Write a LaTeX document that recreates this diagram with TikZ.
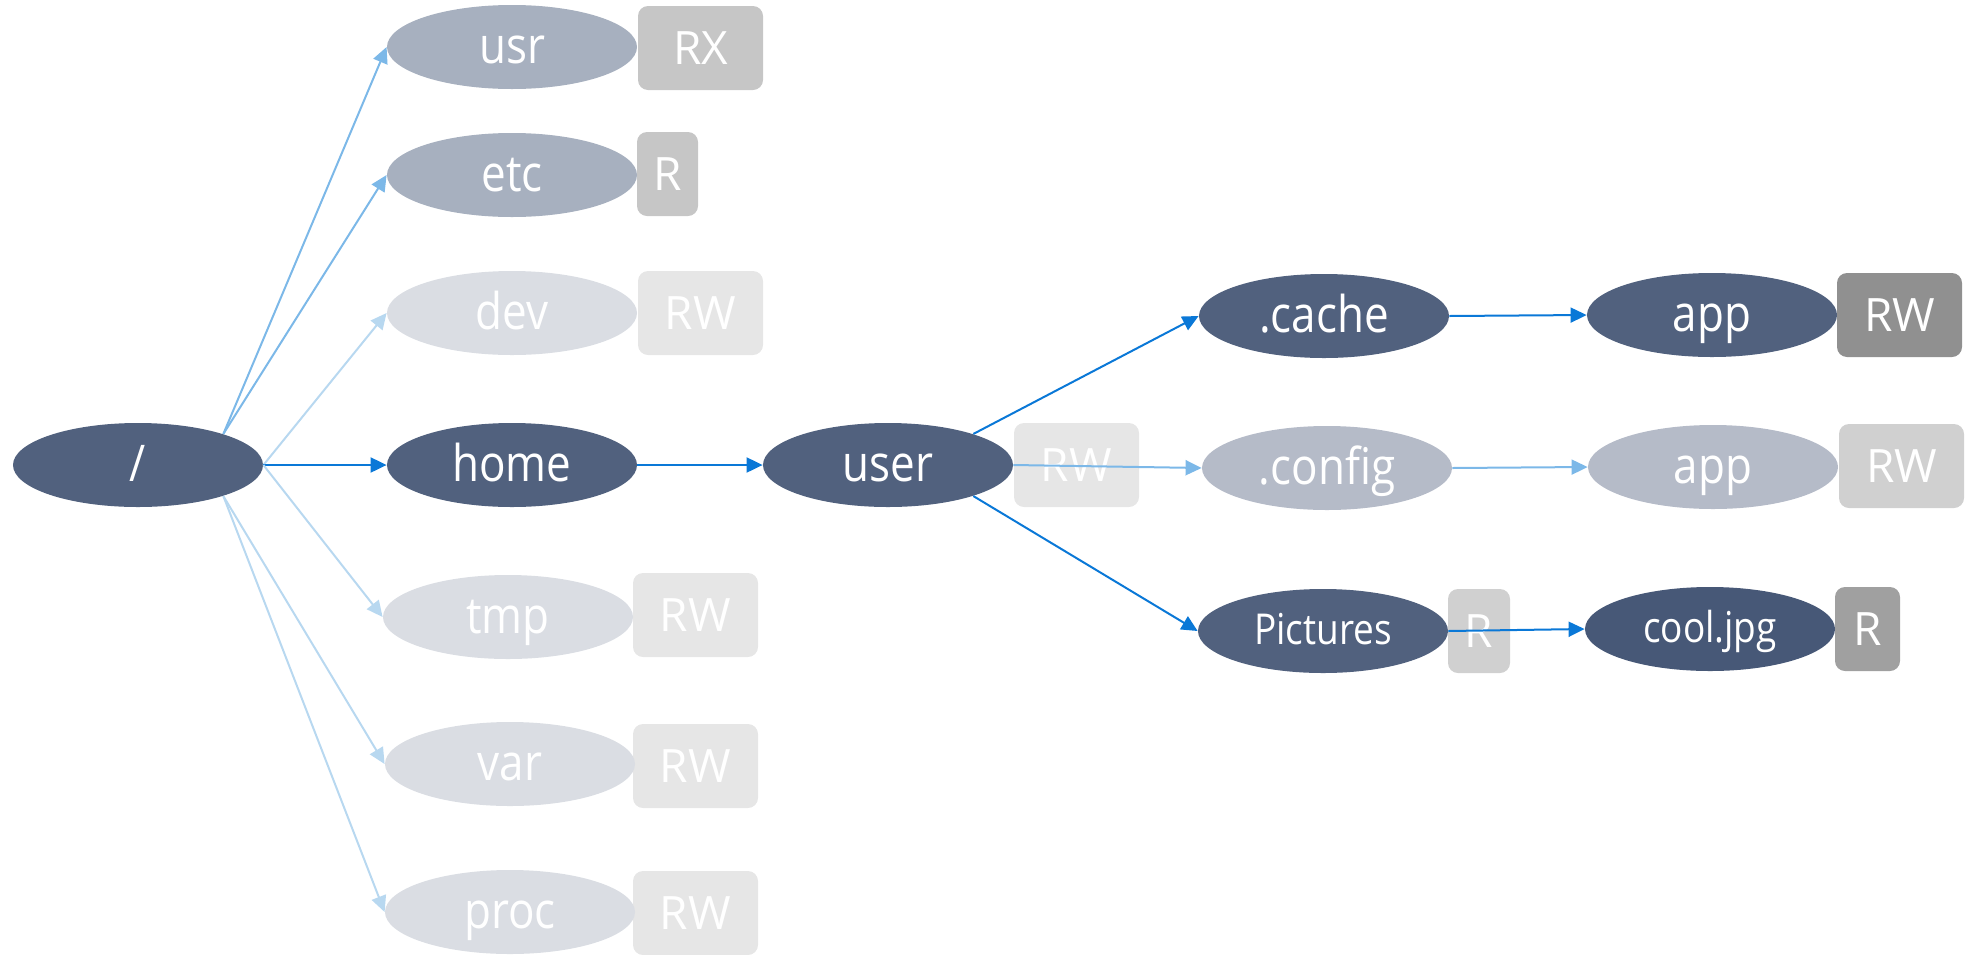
\documentclass[tikz,border=0pt]{standalone}
\usepackage{fontspec}
\setmainfont{Open Sans}
\usetikzlibrary{shapes.geometric,arrows.meta}
\definecolor{ndark}{HTML}{51617E}
\definecolor{ndarker}{HTML}{475877}
\definecolor{nmid}{HTML}{A7B0BF}
\definecolor{nsoft}{HTML}{B5BBC8}
\definecolor{nlight}{HTML}{DADDE3}
\definecolor{bmid}{HTML}{C6C6C6}
\definecolor{blight}{HTML}{E6E6E6}
\definecolor{bsoft}{HTML}{D0D0D0}
\definecolor{bdark}{HTML}{909090}
\definecolor{bdarkish}{HTML}{A0A0A0}
\definecolor{estrong}{HTML}{0A78D7}
\definecolor{emid}{HTML}{7CB8E8}
\definecolor{elight}{HTML}{B8D8F0}
\newcommand\tallbl[1]{\scalebox{1}[1.15]{#1}}
\tikzset{
  dirnode/.style={ellipse, inner sep=0pt, minimum width=125pt, minimum height=42pt,
    text=white, font=\fontsize{22pt}{26pt}\selectfont, text height=16.5pt, text depth=0pt},
  smalltext/.style={font=\fontsize{18.5pt}{22pt}\selectfont, text height=13pt, text depth=0pt},
  permbox/.style={rectangle, rounded corners=5pt, inner sep=0pt, minimum height=42pt,
    text=white, font=\fontsize{23pt}{27pt}\selectfont},
  edge/.style={line width=1pt, -{Triangle[length=8pt,width=7.5pt]}},
}
\begin{document}
\begin{tikzpicture}[x=0.5pt,y=-0.5pt]
\useasboundingbox (0,0) rectangle (1977,954);
% permission boxes
\node[permbox, fill=bmid, minimum width=62.5pt] (usrp) at (700.5,48) {RX};
\node[permbox, fill=bmid, minimum width=30.5pt] (etcp) at (667.5,174) {R};
\node[permbox, fill=blight, minimum width=62.5pt] (devp) at (700.5,313) {RW};
\node[permbox, fill=blight, minimum width=62.5pt] (tmpp) at (695.5,615) {RW};
\node[permbox, fill=blight, minimum width=62.5pt] (varp) at (695.5,766) {RW};
\node[permbox, fill=blight, minimum width=62.5pt] (procp) at (695.5,913) {RW};
\node[permbox, fill=blight, minimum width=62.5pt] (userp) at (1076.5,465) {RW};
\node[permbox, fill=bsoft, minimum width=31pt] (picp) at (1479,631) {R};
\node[permbox, fill=bdark, minimum width=62.5pt] (appp) at (1899.5,315) {RW};
\node[permbox, fill=bsoft, minimum width=62.5pt] (appbp) at (1901.5,466) {RW};
\node[permbox, fill=bdarkish, minimum width=32.5pt] (coolp) at (1867.5,629) {R};
% directory nodes
\node[dirnode, fill=ndark] (root) at (138,465) {\tallbl{/}};
\node[dirnode, fill=nmid] (usr) at (512,47) {\tallbl{usr}};
\node[dirnode, fill=nmid] (etc) at (512,175) {\tallbl{etc}};
\node[dirnode, fill=nlight] (dev) at (512,313) {\tallbl{dev}};
\node[dirnode, fill=ndark] (home) at (512,465) {\tallbl{home}};
\node[dirnode, fill=nlight] (tmp) at (508,617) {\tallbl{tmp}};
\node[dirnode, fill=nlight] (var) at (510,764) {\tallbl{var}};
\node[dirnode, fill=nlight] (proc) at (510,912) {\tallbl{proc}};
\node[dirnode, fill=ndark] (user) at (888,465) {\tallbl{user}};
\node[dirnode, fill=ndark] (cache) at (1324,316) {\tallbl{.cache}};
\node[dirnode, fill=nsoft] (config) at (1327,468) {\tallbl{.config}};
\node[dirnode, fill=ndark, smalltext] (pics) at (1323,631) {\tallbl{Pictures}};
\node[dirnode, fill=ndark] (app) at (1712,315) {\tallbl{app}};
\node[dirnode, fill=nsoft] (appb) at (1713,467) {\tallbl{app}};
\node[dirnode, fill=ndarker, smalltext] (cool) at (1710,629) {\tallbl{cool.jpg}};
% edges
\draw[edge, emid] (root.20) -- (usr.west);
\draw[edge, emid] (root.20) -- (etc.west);
\draw[edge, elight] (root.east) -- (dev.west);
\draw[edge, estrong] (root.east) -- (home.west);
\draw[edge, elight] (root.east) -- (tmp.west);
\draw[edge, elight] (root.-20) -- (var.west);
\draw[edge, elight] (root.-20) -- (proc.west);
\draw[edge, estrong] (home.east) -- (user.west);
\draw[edge, estrong] (user.20) -- (cache.west);
\draw[edge, emid] (user.east) -- (config.west);
\draw[edge, estrong] (user.-20) -- (pics.west);
\draw[edge, estrong] (cache.east) -- (app.west);
\draw[edge, emid] (config.east) -- (appb.west);
\draw[edge, estrong] (pics.east) -- (cool.west);
\end{tikzpicture}
\end{document}
